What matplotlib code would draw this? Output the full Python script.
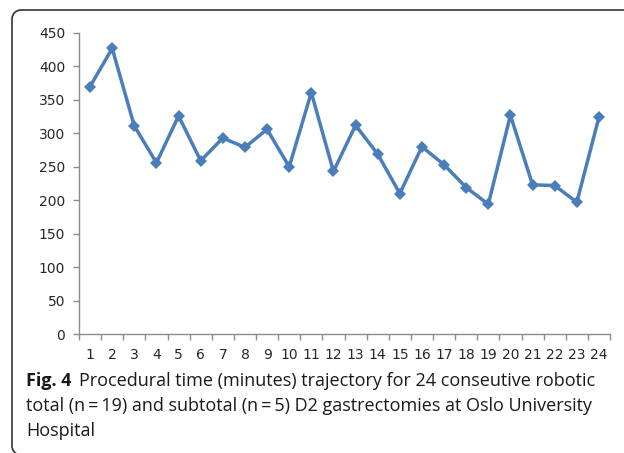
import matplotlib
matplotlib.use("Agg")
import matplotlib.pyplot as plt
import numpy as np
from matplotlib.lines import Line2D
from matplotlib.patches import Arc

# procedure number and time in minutes
cases = list(range(1, 25))
minutes = [370, 427, 311, 256, 326, 259, 293, 279, 306, 250, 361, 243,
           312, 269, 210, 280, 253, 219, 194, 327, 223, 222, 197, 324]
y_ticks = [0, 50, 100, 150, 200, 250, 300, 350, 400, 450]

caption_bold = "Fig. 4"
caption_lines = [
    "Procedural time (minutes) trajectory for 24 conseutive robotic",
    "total (n\u2009=\u200919) and subtotal (n\u2009=\u20095) D2 gastrectomies at Oslo University",
    "Hospital",
]

W, H = 624, 453
fig = plt.figure(figsize=(W / 100, H / 100), dpi=100)


def px(x, y):
    # pixel coords (origin top-left) -> figure fraction
    return x / W, 1 - y / H


# open frame: top edge and left edge with rounded corners
frame_kw = dict(color="#333333", linewidth=1.2, transform=fig.transFigure,
                solid_capstyle="butt")
r = 9
(xa, ya), (xb, yb) = px(12 + r, 10), px(W - 0.5, 10)
fig.add_artist(Line2D([xa, xb], [ya, yb], **frame_kw))
(xa, ya), (xb, yb) = px(12, 10 + r), px(12, 446)
fig.add_artist(Line2D([xa, xb], [ya, yb], **frame_kw))
arc_kw = dict(color="#333333", linewidth=1.2, transform=fig.transFigure)
fig.add_artist(Arc(px(12 + r, 10 + r), 2 * r / W, 2 * r / H,
                   theta1=90, theta2=180, **arc_kw))
fig.add_artist(Arc(px(12 + r, 446), 2 * r / W, 2 * r / H,
                   theta1=180, theta2=260, **arc_kw))

ax = fig.add_axes([79 / W, (H - 334) / H, (610 - 79) / W, (334 - 33) / H])
ax.plot(cases, minutes, color="#4a7ebb", linewidth=2.5, marker="D",
        markersize=6.5, markeredgewidth=0, zorder=3)

axis_grey = "#8c8c8c"
ax.set_xlim(0.5, 24.5)
ax.set_ylim(0, 450)
ax.set_yticks(y_ticks)
ax.set_xticks(cases)
ax.set_xticks(np.arange(0.5, 25, 1.0), minor=True)
for side in ("top", "right"):
    ax.spines[side].set_visible(False)
for side in ("left", "bottom"):
    ax.spines[side].set_color(axis_grey)
    ax.spines[side].set_linewidth(1.0)
ax.tick_params(axis="x", which="major", length=0, pad=10,
               labelsize=10, labelcolor="#262626")
ax.tick_params(axis="x", which="minor", length=4, color=axis_grey, width=1.0)
ax.tick_params(axis="y", length=4, color=axis_grey, width=1.0, pad=6,
               labelsize=10, labelcolor="#262626")

cap_font = "Open Sans"
cap_size = 13
x0 = 26 / W
t = fig.text(x0, 1 - 386 / H, caption_bold, fontsize=cap_size,
             fontweight="bold", family=cap_font, va="baseline", color="#1a1a1a")
fig.canvas.draw()
bb = t.get_window_extent()
fig.text(bb.x1 / W + 8 / W, 1 - 386 / H, caption_lines[0], fontsize=cap_size,
         family=cap_font, va="baseline", color="#1a1a1a")
fig.text(x0, 1 - 411 / H, caption_lines[1], fontsize=cap_size,
         family=cap_font, va="baseline", color="#1a1a1a")
fig.text(x0, 1 - 436 / H, caption_lines[2], fontsize=cap_size,
         family=cap_font, va="baseline", color="#1a1a1a")

fig.savefig("out.png", dpi=100)
